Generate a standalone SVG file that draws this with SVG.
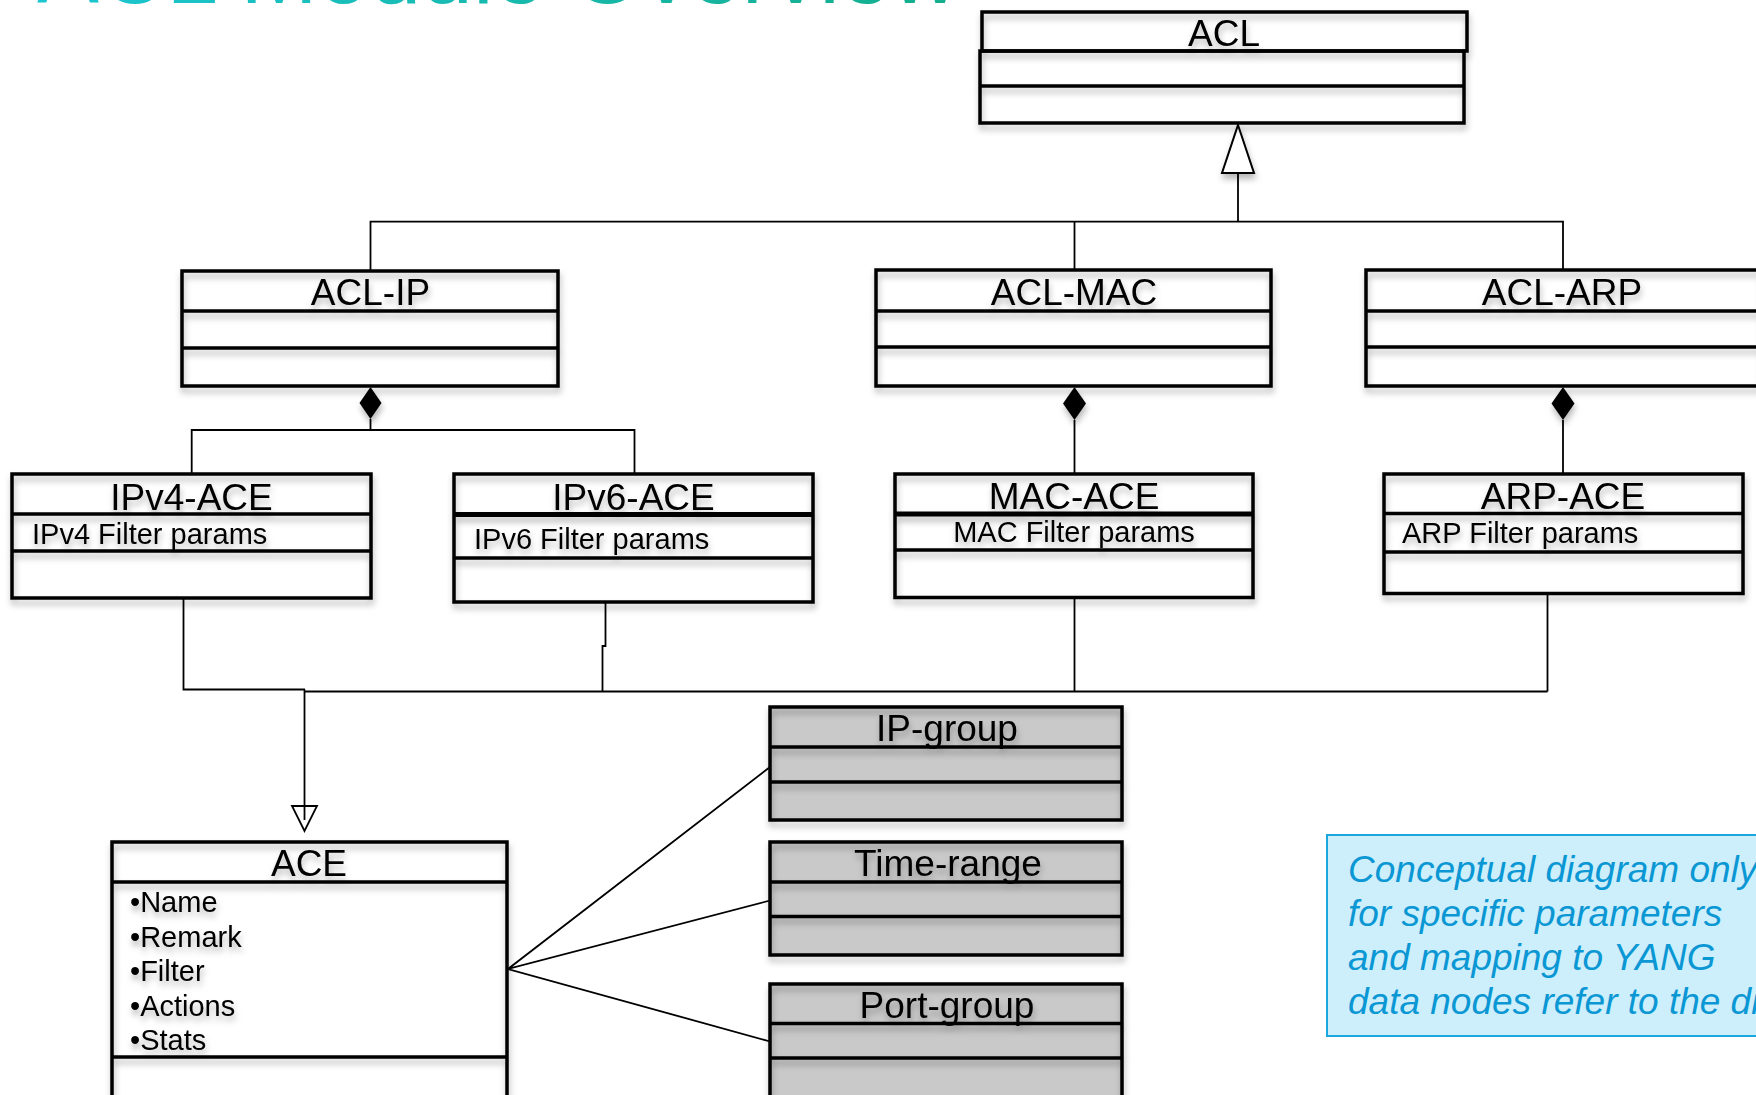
<svg xmlns="http://www.w3.org/2000/svg" width="1756" height="1095" viewBox="0 0 1756 1095">
  <defs>
    <style>
      .fillw { fill: #ffffff; }
      .fillg { fill: #c9c9c9; }
      .ln { fill: none; stroke: #000; stroke-width: 3.5; }
      .lnt { fill: none; stroke: #000; stroke-width: 5; }
      .lbl { font-family: "Liberation Sans", Arial, sans-serif; font-size: 37px; text-anchor: middle; fill: #000; }
      .attr { font-family: "Liberation Sans", Arial, sans-serif; font-size: 29px; fill: #000; }
      .conn { fill: none; stroke: #000; stroke-width: 1.8; }
      .head { fill: #fff; stroke: #000; stroke-width: 2; }
      .title { font-family: "Liberation Sans", Arial, sans-serif; font-size: 93px; fill: url(#titleGrad); }
      .note { font-family: "Liberation Sans", Arial, sans-serif; font-size: 37px; font-style: italic; fill: #0a97d4; }
    </style>
    <linearGradient id="titleGrad" x1="0" y1="0" x2="1" y2="0">
      <stop offset="0" stop-color="#1cc6d2"/>
      <stop offset="1" stop-color="#14ae8c"/>
    </linearGradient>
    <!-- soft drop shadow used under box outlines, labels and arrowheads -->
    <filter id="sh" filterUnits="userSpaceOnUse" x="0" y="0" width="1756" height="1095">
      <feGaussianBlur in="SourceAlpha" stdDeviation="3"/>
      <feOffset dx="1" dy="5" result="blur"/>
      <feFlood flood-color="#000" flood-opacity="0.28"/>
      <feComposite in2="blur" operator="in"/>
      <feMerge>
        <feMergeNode/>
        <feMergeNode in="SourceGraphic"/>
      </feMerge>
    </filter>
  </defs>

  <rect x="0" y="0" width="1756" height="1095" fill="#ffffff"/>

  <!-- slide title, clipped by the top edge -->
  <text class="title" x="37" y="3">ACL Module Overview</text>

  <!-- connectors -->
  <g id="connectors">
    <!-- generalization ACL-IP / ACL-MAC / ACL-ARP -> ACL -->
    <path class="conn" d="M1238,173 V221.7 M370.5,270 V221.7 H1563 V270 M1074.5,221.7 V270"/>
    <!-- composition ACL-IP -> IPv4-ACE / IPv6-ACE -->
    <path class="conn" d="M370.5,419 V430 M191.7,474 V430 H634.5 V474"/>
    <!-- composition ACL-MAC -> MAC-ACE, ACL-ARP -> ARP-ACE -->
    <path class="conn" d="M1074.5,420 V474 M1563,420 V474"/>
    <!-- generalization of the typed ACEs -> ACE -->
    <path class="conn" d="M183.5,598 V689.5 H305"/>
    <path class="conn" stroke-width="2.2" d="M305,691.5 H1547.5"/>
    <path class="conn" d="M605.5,602 V646 H602.5 V691.5"/>
    <path class="conn" d="M1074.5,593 V691.5"/>
    <path class="conn" d="M1547.5,594 V691.5"/>
    <path class="conn" d="M304.5,689.5 V820"/>
    <path class="conn" d="M292,806 H317 L304.5,831 Z" fill="none"/>
    <!-- ACE associations to the shared objects -->
    <path class="conn" d="M508,969 L770,767 M508,969 L770,900.5 M508,969 L770,1041.5"/>
  </g>

  <!-- arrowheads with shadow -->
  <g id="arrowheads" filter="url(#sh)">
    <path class="head" d="M1238,125 L1254,173 H1222 Z"/>
    <path d="M370.5,387 L381.5,403 L370.5,419 L359.5,403 Z" fill="#000"/>
    <path d="M1074.5,387 L1086,403.5 L1074.5,420 L1063,403.5 Z" fill="#000"/>
    <path d="M1563,387 L1574.5,403.5 L1563,420 L1551.5,403.5 Z" fill="#000"/>
  </g>

  <!-- ACL -->
  <g id="node-acl">
    <rect class="fillw" x="980" y="12" width="486" height="111"/>
    <g filter="url(#sh)">
      <rect class="ln" x="982" y="12" width="485" height="39"/>
      <rect class="ln" x="980" y="51" width="484" height="72"/>
      <line class="ln" x1="980" y1="86" x2="1464" y2="86"/>
      <text class="lbl" x="1224" y="45.5">ACL</text>
    </g>
  </g>

  <!-- ACL-IP -->
  <g id="node-acl-ip">
    <rect class="fillw" x="182" y="271" width="376" height="115"/>
    <g filter="url(#sh)">
      <rect class="ln" x="182" y="271" width="376" height="115"/>
      <line class="ln" x1="182" y1="311" x2="558" y2="311"/>
      <line class="ln" x1="182" y1="348" x2="558" y2="348"/>
      <text class="lbl" x="370.5" y="305">ACL-IP</text>
    </g>
  </g>

  <!-- ACL-MAC -->
  <g id="node-acl-mac">
    <rect class="fillw" x="876" y="270" width="395" height="116"/>
    <g filter="url(#sh)">
      <rect class="ln" x="876" y="270" width="395" height="116"/>
      <line class="ln" x1="876" y1="311" x2="1271" y2="311"/>
      <line class="ln" x1="876" y1="347" x2="1271" y2="347"/>
      <text class="lbl" x="1074" y="305">ACL-MAC</text>
    </g>
  </g>

  <!-- ACL-ARP -->
  <g id="node-acl-arp">
    <rect class="fillw" x="1366" y="270" width="396" height="116"/>
    <g filter="url(#sh)">
      <rect class="ln" x="1366" y="270" width="396" height="116"/>
      <line class="ln" x1="1366" y1="311" x2="1762" y2="311"/>
      <line class="ln" x1="1366" y1="347" x2="1762" y2="347"/>
      <text class="lbl" x="1562" y="305">ACL-ARP</text>
    </g>
  </g>

  <!-- IPv4-ACE -->
  <g id="node-ipv4-ace">
    <rect class="fillw" x="12" y="474" width="359" height="124"/>
    <g filter="url(#sh)">
      <rect class="ln" x="12" y="474" width="359" height="124"/>
      <line class="ln" x1="12" y1="514" x2="371" y2="514"/>
      <line class="ln" x1="12" y1="551" x2="371" y2="551"/>
      <text class="lbl" x="191.5" y="510">IPv4-ACE</text>
      <text class="attr" x="32" y="543.5">IPv4 Filter params</text>
    </g>
  </g>

  <!-- IPv6-ACE -->
  <g id="node-ipv6-ace">
    <rect class="fillw" x="454" y="474" width="359" height="128"/>
    <g filter="url(#sh)">
      <rect class="ln" x="454" y="474" width="359" height="128"/>
      <line class="lnt" x1="454" y1="514.5" x2="813" y2="514.5"/>
      <line class="ln" x1="454" y1="558" x2="813" y2="558"/>
      <text class="lbl" x="633.5" y="510">IPv6-ACE</text>
      <text class="attr" x="474" y="548.5">IPv6 Filter params</text>
    </g>
  </g>

  <!-- MAC-ACE -->
  <g id="node-mac-ace">
    <rect class="fillw" x="895" y="474" width="358" height="123.5"/>
    <g filter="url(#sh)">
      <rect class="ln" x="895" y="474" width="358" height="123.5"/>
      <line class="lnt" x1="895" y1="514" x2="1253" y2="514"/>
      <line class="ln" x1="895" y1="550" x2="1253" y2="550"/>
      <text class="lbl" x="1074" y="509">MAC-ACE</text>
      <text class="attr" x="1074" y="541.5" text-anchor="middle">MAC Filter params</text>
    </g>
  </g>

  <!-- ARP-ACE -->
  <g id="node-arp-ace">
    <rect class="fillw" x="1384" y="474" width="359" height="119.5"/>
    <g filter="url(#sh)">
      <rect class="ln" x="1384" y="474" width="359" height="119.5"/>
      <line class="ln" x1="1384" y1="513.5" x2="1743" y2="513.5"/>
      <line class="ln" x1="1384" y1="552" x2="1743" y2="552"/>
      <text class="lbl" x="1563" y="509">ARP-ACE</text>
      <text class="attr" x="1402" y="542.5">ARP Filter params</text>
    </g>
  </g>

  <!-- ACE -->
  <g id="node-ace">
    <rect class="fillw" x="112" y="842" width="395" height="260"/>
    <g filter="url(#sh)">
      <rect class="ln" x="112" y="842" width="395" height="260"/>
      <line class="ln" x1="112" y1="882" x2="507" y2="882"/>
      <line class="ln" x1="112" y1="1057" x2="507" y2="1057"/>
      <text class="lbl" x="309" y="876">ACE</text>
      <text class="attr" x="130" y="912">•Name</text>
      <text class="attr" x="130" y="946.5">•Remark</text>
      <text class="attr" x="130" y="981">•Filter</text>
      <text class="attr" x="130" y="1015.5">•Actions</text>
      <text class="attr" x="130" y="1050">•Stats</text>
    </g>
  </g>

  <!-- IP-group -->
  <g id="node-ip-group">
    <rect class="fillg" x="770" y="707" width="352" height="113"/>
    <g filter="url(#sh)">
      <rect class="ln" x="770" y="707" width="352" height="113"/>
      <line class="ln" x1="770" y1="747" x2="1122" y2="747"/>
      <line class="ln" x1="770" y1="782" x2="1122" y2="782"/>
      <text class="lbl" x="947" y="741">IP-group</text>
    </g>
  </g>

  <!-- Time-range -->
  <g id="node-time-range">
    <rect class="fillg" x="770" y="842" width="352" height="113"/>
    <g filter="url(#sh)">
      <rect class="ln" x="770" y="842" width="352" height="113"/>
      <line class="ln" x1="770" y1="882" x2="1122" y2="882"/>
      <line class="ln" x1="770" y1="916.5" x2="1122" y2="916.5"/>
      <text class="lbl" x="948" y="876">Time-range</text>
    </g>
  </g>

  <!-- Port-group -->
  <g id="node-port-group">
    <rect class="fillg" x="770" y="984" width="352" height="120"/>
    <g filter="url(#sh)">
      <rect class="ln" x="770" y="984" width="352" height="120"/>
      <line class="ln" x1="770" y1="1023.5" x2="1122" y2="1023.5"/>
      <line class="ln" x1="770" y1="1058" x2="1122" y2="1058"/>
      <text class="lbl" x="947" y="1018">Port-group</text>
    </g>
  </g>

  <!-- explanatory note -->
  <g id="node-note">
    <rect x="1327" y="835" width="440" height="201" fill="#cdeffc" stroke="#1ca6de" stroke-width="2"/>
    <text class="note" x="1348" y="882">Conceptual diagram only</text>
    <text class="note" x="1348" y="926">for specific parameters</text>
    <text class="note" x="1348" y="970">and mapping to YANG</text>
    <text class="note" x="1348" y="1014">data nodes refer to the di</text>
  </g>
</svg>
